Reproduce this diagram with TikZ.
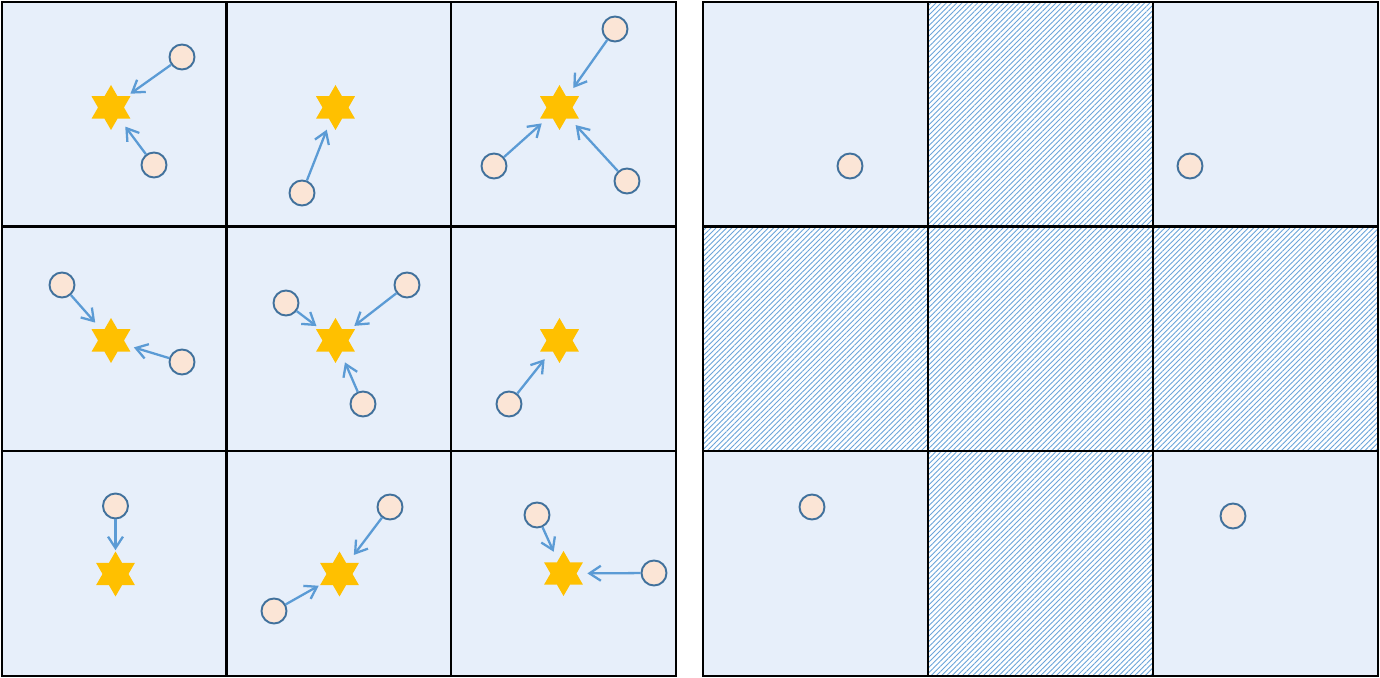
\documentclass[tikz,border=0pt]{standalone}
\usepackage{xcolor}
\usepackage{tikz}
\usetikzlibrary{arrows.meta,patterns.meta}
\definecolor{CellBlue}{HTML}{E7EFFA}
\definecolor{BallFill}{HTML}{FBE5D6}
\definecolor{BallEdge}{HTML}{41719C}
\definecolor{StarGold}{HTML}{FFC000}
\definecolor{ArrowBlue}{HTML}{5B9BD5}
\definecolor{HatchBlue}{HTML}{6AA4DA}
\tikzset{
  cellbox/.style={fill=CellBlue},
  hatchbox/.style={fill=white,
             postaction={pattern={Lines[angle=45,distance=2.1pt,line width=0.5pt]},pattern color=HatchBlue}},
  gridline/.style={draw=black,line width=1.2pt},
  goal/.style={circle,minimum size=0.94cm,inner sep=0pt,
             path picture={\fill[StarGold]
               (path picture bounding box.center) ++(0cm,0.45cm) -- ++(-0.3897cm,-0.675cm) -- ++(0.7794cm,0cm) -- cycle
               (path picture bounding box.center) ++(0cm,-0.45cm) -- ++(0.3897cm,0.675cm) -- ++(-0.7794cm,0cm) -- cycle;}},
  ball/.style={circle,draw=BallEdge,fill=BallFill,line width=1.1pt,
             minimum size=0.5cm,inner sep=0pt},
  pull/.style={-{Straight Barb[length=6.5pt,width=8.5pt]},draw=ArrowBlue,line width=1.3pt}
}

\begin{document}
\begin{tikzpicture}[x=0.02cm,y=-0.02cm]
  \useasboundingbox (0,0) rectangle (1380,678);
  % left grid
  \fill[cellbox] (2,2) rectangle (676,676);
  \foreach \v in {226.5,451} {
    \draw[gridline] (\v,2) -- (\v,676);
    \draw[gridline] (2,\v) -- (676,\v);
  }
  \draw[gridline] (2,2) rectangle (676,676);
  % right grid
  \fill[cellbox] (703,2) rectangle (1378,676);
  \path[hatchbox] (928,2) rectangle (1153,226.5);
  \path[hatchbox] (703,226.5) rectangle (1378,451);
  \path[hatchbox] (928,451) rectangle (1153,676);
  \foreach \v in {928,1153} \draw[gridline] (\v,2) -- (\v,676);
  \foreach \v in {226.5,451} \draw[gridline] (703,\v) -- (1378,\v);
  \draw[gridline] (703,2) rectangle (1378,676);

  % row 1
  \node[goal] (g1) at (111,107.5) {};
  \node[ball] (b1a) at (182,57) {};
  \node[ball] (b1b) at (154,165) {};
  \node[goal] (g2) at (335.5,107.5) {};
  \node[ball] (b2a) at (302,193) {};
  \node[goal] (g3) at (559.5,107.5) {};
  \node[ball] (b3a) at (615,29) {};
  \node[ball] (b3b) at (494,166) {};
  \node[ball] (b3c) at (627,181) {};
  % row 2
  \node[goal] (g4) at (111,340.5) {};
  \node[ball] (b4a) at (62,285) {};
  \node[ball] (b4b) at (182,362) {};
  \node[goal] (g5) at (335.5,340.5) {};
  \node[ball] (b5a) at (286,303) {};
  \node[ball] (b5b) at (407,285) {};
  \node[ball] (b5c) at (363,404) {};
  \node[goal] (g6) at (559.5,340.5) {};
  \node[ball] (b6a) at (509,404) {};
  % row 3
  \node[goal] (g7) at (115.5,574) {};
  \node[ball] (b7a) at (115.5,506) {};
  \node[goal] (g8) at (339.5,574) {};
  \node[ball] (b8a) at (390,507) {};
  \node[ball] (b8b) at (274,611) {};
  \node[goal] (g9) at (563.5,573.5) {};
  \node[ball] (b9a) at (537,515) {};
  \node[ball] (b9b) at (654,573) {};

  \foreach \b/\g in {b1a/g1,b1b/g1,b2a/g2,b3a/g3,b3b/g3,b3c/g3,
                     b4a/g4,b4b/g4,b5a/g5,b5b/g5,b5c/g5,b6a/g6,
                     b7a/g7,b8a/g8,b8b/g8,b9a/g9,b9b/g9}
    \draw[pull] (\b) -- (\g);

  % right grid balls
  \node[ball] (r1) at (850,166) {};
  \node[ball] (r2) at (1190,166) {};
  \node[ball] (r3) at (812,507) {};
  \node[ball] (r4) at (1233,516) {};
\end{tikzpicture}
\end{document}
